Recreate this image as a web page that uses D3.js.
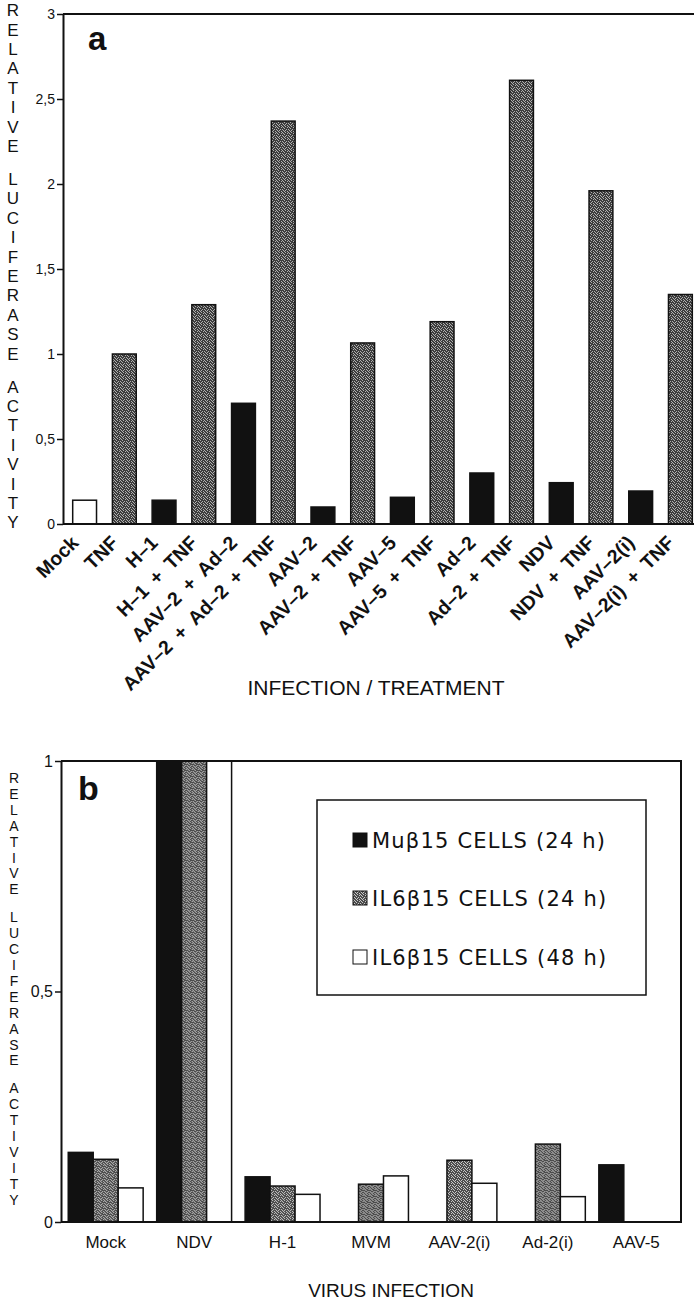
<!DOCTYPE html>
<html>
<head>
<meta charset="utf-8">
<script src="https://cdn.jsdelivr.net/npm/d3@7"></script>
<style>
  body { margin: 0; background: #fff; }
  svg { display: block; }
  text { font-family: "Liberation Sans", Arial, sans-serif; fill: #111; }
</style>
</head>
<body>
<script>
// panel a : luciferase activity per infection / treatment
var treatments = ["Mock", "TNF", "H\u20131", "H\u20131 + TNF", "AAV\u20132 + Ad\u20132",
  "AAV\u20132 + Ad\u20132 + TNF", "AAV\u20132", "AAV\u20132 + TNF", "AAV\u20135", "AAV\u20135 + TNF",
  "Ad\u20132", "Ad\u20132 + TNF", "NDV", "NDV + TNF", "AAV\u20132(i)", "AAV\u20132(i) + TNF"];
var activityA = [0.14, 1.0, 0.14, 1.29, 0.71, 2.37, 0.10, 1.065, 0.157, 1.19, 0.30, 2.61, 0.243, 1.96, 0.194, 1.35];
var ticksA = [0, 0.5, 1, 1.5, 2, 2.5, 3];

// panel b : three cell lines per virus
var viruses = ["Mock", "NDV", "H-1", "MVM", "AAV-2(i)", "Ad-2(i)", "AAV-5"];
var cellLines = ["Mu\u03b215 CELLS (24 h)", "IL6\u03b215 CELLS (24 h)", "IL6\u03b215 CELLS (48 h)"];
var mu24 = [0.151, 1, 0.098, 0, 0, 0, 0.124];
var il24 = [0.136, 1, 0.078, 0.082, 0.134, 0.169, 0];
var il48 = [0.074, 1, 0.060, 0.100, 0.084, 0.055, 0];
var ticksB = [0, 0.5, 1];

var yTitle = "RELATIVE LUCIFERASE ACTIVITY";

var svg = d3.select("body").append("svg")
    .attr("width", 694)
    .attr("height", 1301);

// stippled grey like the halftone print
var defs = svg.append("defs");
var speckle = [[0, 0], [3, 0], [1, 1], [5, 1], [2, 2], [4, 3], [0, 3], [1, 4], [3, 4], [5, 5], [2, 5]];
function stipple(id, dark, light) {
  var p = defs.append("pattern")
      .attr("id", id)
      .attr("width", 6).attr("height", 6)
      .attr("patternUnits", "userSpaceOnUse");
  p.append("rect").attr("width", 6).attr("height", 6).attr("fill", dark);
  speckle.forEach(function(d) {
    p.append("rect").attr("x", d[0]).attr("y", d[1]).attr("width", 1).attr("height", 1).attr("fill", light);
  });
}
stipple("greyA", "#3c3c3c", "#b0b0b0");
stipple("greyB", "#4c4c4c", "#c8c8c8");

function stackLetters(x, y0, step, gap, size) {
  var y = y0;
  yTitle.split("").forEach(function(ch) {
    if (ch === " ") { y += gap - step; return; }
    svg.append("text")
        .attr("x", x).attr("y", y)
        .attr("dy", ".36em")
        .attr("text-anchor", "middle")
        .style("font-size", size + "px")
        .text(ch);
    y += step;
  });
}

function comma(d) { return String(d).replace(".", ","); }

// ---------------- panel a ----------------
var xa = d3.scaleBand()
    .domain(treatments)
    .range([63, 702])
    .paddingInner(0.4)
    .paddingOuter(0.244);

var ya = d3.scaleLinear()
    .domain([0, 3])
    .range([524, 14]);

var ga = svg.append("g");

ga.append("line").attr("x1", 63).attr("x2", 694).attr("y1", ya(3)).attr("y2", ya(3))
    .attr("stroke", "#111").attr("stroke-width", 2);

ga.selectAll(".bar")
    .data(treatments)
  .enter().append("rect")
    .attr("class", "bar")
    .attr("x", function(d) { return xa(d); })
    .attr("width", xa.bandwidth())
    .attr("y", function(d, i) { return ya(activityA[i]); })
    .attr("height", function(d, i) { return ya(0) - ya(activityA[i]); })
    .attr("fill", function(d) {
      if (d === "Mock") return "#fff";
      return d.indexOf("TNF") >= 0 ? "url(#greyA)" : "#111";
    })
    .attr("stroke", "#111")
    .attr("stroke-width", 1.5);

ga.append("line").attr("x1", 63).attr("x2", 694).attr("y1", ya(0)).attr("y2", ya(0))
    .attr("stroke", "#111").attr("stroke-width", 2);

var axA = ga.append("g")
    .attr("transform", "translate(63,0)")
    .call(d3.axisLeft(ya).tickValues(ticksA).tickSize(6).tickSizeOuter(0).tickFormat(comma));
axA.select(".domain").attr("stroke", "#111").attr("stroke-width", 2);
axA.selectAll(".tick line").attr("stroke", "#111").attr("stroke-width", 1.5);
axA.selectAll(".tick text").attr("x", -8).style("font-size", "14px").attr("font-family", null).attr("fill", "#111");

// slanted category labels, the print leaves wide gaps round the "+"
ga.selectAll(".xlab")
    .data(treatments)
  .enter().append("g")
    .attr("class", "xlab")
    .attr("transform", function(d) {
      return "translate(" + (xa(d) + xa.bandwidth() / 2 - 5) + "," + (ya(0) + 20) + ")";
    })
  .append("text")
    .attr("transform", "rotate(-45)")
    .attr("text-anchor", "end")
    .style("font-size", "19.5px")
    .style("font-weight", "bold")
    .text(function(d) { return d.replace(/ /g, "\u2002"); });

ga.append("text")
    .attr("x", 88).attr("y", 50)
    .style("font-size", "33px").style("font-weight", "bold")
    .text("a");

ga.append("text")
    .attr("x", 376).attr("y", 695)
    .attr("text-anchor", "middle")
    .style("font-size", "21px")
    .text("INFECTION / TREATMENT");

stackLetters(13, 10, 19.4, 33, 17);

// ---------------- panel b ----------------
var series = [mu24, il24, il48];

var x0 = d3.scaleBand()
    .domain(viruses)
    .range([61, 681])
    .paddingInner(0.153)
    .paddingOuter(0.082);

var x1 = d3.scaleBand()
    .domain(d3.range(cellLines.length))
    .range([0, x0.bandwidth()]);

var yb = d3.scaleLinear()
    .domain([0, 1])
    .range([1222, 761]);

var fillsB = ["#111", "url(#greyB)", "#fff"];

var gb = svg.append("g");

gb.selectAll(".grp")
    .data(viruses)
  .enter().append("g")
    .attr("class", "grp")
    .attr("transform", function(d) { return "translate(" + x0(d) + ",0)"; })
  .selectAll("rect")
    .data(function(d, i) {
      return series.map(function(s, k) { return {k: k, v: s[i]}; })
          .filter(function(e) { return e.v > 0; });
    })
  .enter().append("rect")
    .attr("x", function(e) { return x1(e.k); })
    .attr("width", x1.bandwidth())
    .attr("y", function(e) { return yb(e.v); })
    .attr("height", function(e) { return yb(0) - yb(e.v); })
    .attr("fill", function(e) { return fillsB[e.k]; })
    .attr("stroke", "#111")
    .attr("stroke-width", 1.5);

gb.append("path")
    .attr("d", "M61," + yb(1) + "H681V" + yb(0) + "H61")
    .attr("fill", "none")
    .attr("stroke", "#111")
    .attr("stroke-width", 2);

var axB = gb.append("g")
    .attr("transform", "translate(61,0)")
    .call(d3.axisLeft(yb).tickValues(ticksB).tickSize(6).tickSizeOuter(0).tickFormat(comma));
axB.select(".domain").attr("stroke", "#111").attr("stroke-width", 2);
axB.selectAll(".tick line").attr("stroke", "#111").attr("stroke-width", 1.5);
axB.selectAll(".tick text").attr("x", -8).style("font-size", "16px").attr("font-family", null).attr("fill", "#111");

gb.selectAll(".vlab")
    .data(viruses)
  .enter().append("text")
    .attr("class", "vlab")
    .attr("x", function(d) { return x0(d) + x0.bandwidth() / 2; })
    .attr("y", 1248)
    .attr("text-anchor", "middle")
    .style("font-size", "17px")
    .text(function(d) { return d; });

gb.append("text")
    .attr("x", 78).attr("y", 800)
    .style("font-size", "34px").style("font-weight", "bold")
    .text("b");

gb.append("text")
    .attr("x", 391).attr("y", 1297)
    .attr("text-anchor", "middle")
    .style("font-size", "19px")
    .text("VIRUS INFECTION");

stackLetters(14, 778, 15.9, 28, 14);

// legend
var legend = gb.append("g");
legend.append("rect")
    .attr("x", 317).attr("y", 800)
    .attr("width", 329).attr("height", 195)
    .attr("fill", "#fff")
    .attr("stroke", "#111")
    .attr("stroke-width", 1.5);

var rowY = [840, 898, 957];
cellLines.forEach(function(name, k) {
  legend.append("rect")
      .attr("x", 353).attr("y", rowY[k] - 7)
      .attr("width", 14).attr("height", 14)
      .attr("fill", fillsB[k])
      .attr("stroke", "#111")
      .attr("stroke-width", 1);
  legend.append("text")
      .attr("x", 372).attr("y", rowY[k] + 8)
      .style("font-family", "'DejaVu Sans', sans-serif")
      .style("font-size", "21px")
      .style("letter-spacing", "1.2px")
      .text(name);
});
</script>
</body>
</html>
